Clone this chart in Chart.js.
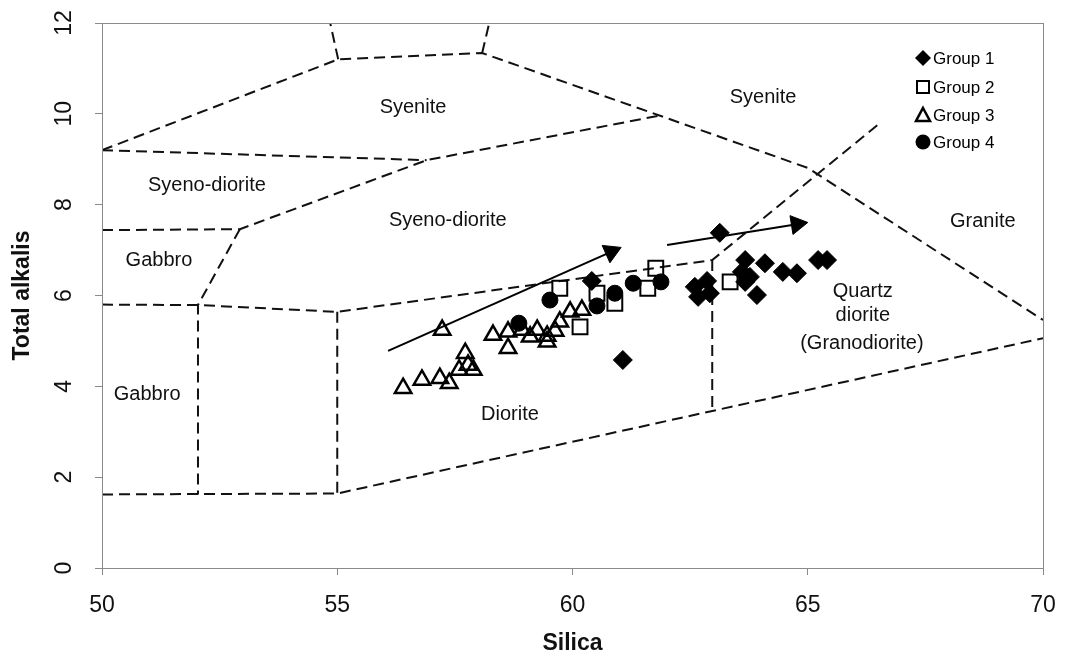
<!DOCTYPE html>
<html>
<head>
<meta charset="utf-8">
<script src="https://cdn.jsdelivr.net/npm/chart.js@4.4.1/dist/chart.umd.min.js"></script>
<style>
	html, body { margin: 0; padding: 0; background: #fff; }
	#wrap { width: 1070px; height: 663px; }
</style>
</head>
<body>
<div id="wrap"><canvas id="tas-chart"></canvas></div>
<script>
const FONT = '"Liberation Sans", Arial, sans-serif';

// samples: silica (x) and total alkalis (y)
const group1Silica = [60.41, 61.07, 63.13, 62.60, 62.86, 62.67, 62.92, 63.67, 63.60, 63.77, 64.09, 63.92, 64.47, 64.77, 65.22, 65.41, 63.67];
const group1Alkali = [6.32, 4.58, 7.38, 6.19, 6.32, 5.97, 6.05, 6.78, 6.52, 6.41, 6.71, 6.01, 6.52, 6.49, 6.78, 6.78, 6.30];

const group2Silica = [59.73, 60.16, 60.52, 60.90, 61.60, 61.77, 63.35];
const group2Alkali = [6.16, 5.31, 6.05, 5.83, 6.16, 6.60, 6.30];

const group3Silica = [56.40, 56.80, 57.18, 57.38, 57.59, 57.72, 57.78, 57.89, 57.23, 58.31, 58.63, 58.63, 58.93, 59.10, 59.25, 59.46, 59.46, 59.63, 59.73, 59.95, 60.20];
const group3Alkali = [3.96, 4.14, 4.18, 4.07, 4.36, 4.73, 4.47, 4.36, 5.24, 5.13, 5.20, 4.84, 5.24, 5.09, 5.24, 5.11, 4.98, 5.22, 5.42, 5.64, 5.68];

const group4Silica = [58.86, 59.52, 60.52, 60.90, 61.29, 61.88];
const group4Alkali = [5.39, 5.90, 5.77, 6.05, 6.27, 6.30];

const groupNames = ['Group 1', 'Group 2', 'Group 3', 'Group 4'];

const xTicks = [50, 55, 60, 65, 70];
const yTicks = [0, 2, 4, 6, 8, 10, 12];

// field boundaries of the diagram, [silica, alkalis] vertices
const fieldLines = [
	[[50, 9.2], [55.02, 11.2], [58.08, 11.34], [65, 8.81], [70, 5.46]],
	[[55.02, 11.2], [54.85, 12]],
	[[58.08, 11.34], [58.23, 12]],
	[[50, 9.2], [56.9, 8.98]],
	[[50, 7.44], [52.93, 7.46], [56.9, 8.98], [61.9, 9.97]],
	[[52.93, 7.46], [52.04, 5.79], [52.04, 1.62]],
	[[50, 5.8], [52.04, 5.79], [55, 5.64], [62.97, 6.78], [66.54, 9.8]],
	[[55, 5.64], [55, 1.64]],
	[[50, 1.62], [55, 1.64], [70, 5.06]],
	[[62.97, 6.78], [62.97, 3.48]]
];

// trend arrows: start, head
const arrowLines = [
	[[56.08, 4.78], [60.82, 6.96]],
	[[62.01, 7.11], [64.77, 7.57]]
];
const arrowTurn = [66, 81];

const fieldLabels = [
	['Syenite', 56.61, 10.15],
	['Syenite', 64.05, 10.37],
	['Syeno-diorite', 52.23, 8.43],
	['Syeno-diorite', 57.35, 7.66],
	['Gabbro', 51.21, 6.76],
	['Gabbro', 50.96, 3.81],
	['Diorite', 58.67, 3.37],
	['Granite', 68.72, 7.64],
	['Quartz', 66.17, 6.08],
	['diorite', 66.17, 5.55],
	['(Granodiorite)', 66.15, 4.95]
];

const pts = (xs, ys) => xs.map((x, i) => ({ x, y: ys[i] }));
const pairs = list => list.map(p => ({ x: p[0], y: p[1] }));

const datasets = [
	{ label: groupNames[3], data: pts(group4Silica, group4Alkali), pointStyle: 'circle', pointRadius: 8, backgroundColor: '#000', borderColor: '#000', borderWidth: 1 },
	{ label: groupNames[0], data: pts(group1Silica, group1Alkali), pointStyle: 'rectRot', pointRadius: 9.5, backgroundColor: '#000', borderColor: '#000', borderWidth: 1 },
	{ label: groupNames[1], data: pts(group2Silica, group2Alkali), pointStyle: 'rect', pointRadius: 10.5, backgroundColor: 'rgba(0,0,0,0)', borderColor: '#000', borderWidth: 2 },
	{ label: groupNames[2], data: pts(group3Silica, group3Alkali), pointStyle: 'triangle', pointRadius: 9.5, backgroundColor: 'rgba(0,0,0,0)', borderColor: '#000', borderWidth: 2.5 }
];

arrowLines.forEach((line, i) => {
	datasets.push({
		label: 'arrow',
		data: pairs(line),
		showLine: true,
		borderColor: '#000',
		borderWidth: 2,
		backgroundColor: '#000',
		pointStyle: 'triangle',
		pointRadius: [0, 11],
		pointRotation: [0, arrowTurn[i]],
		pointBorderWidth: 1
	});
});

fieldLines.forEach(line => {
	datasets.push({
		label: 'field',
		data: pairs(line),
		showLine: true,
		borderColor: '#111',
		borderWidth: 2,
		borderDash: [11, 6],
		pointRadius: 0,
		fill: false
	});
});

const diagramExtras = {
	id: 'diagramExtras',
	afterDatasetsDraw(chart) {
		const { ctx, chartArea: a, scales: { x, y } } = chart;
		ctx.save();
		ctx.fillStyle = '#111';
		ctx.textAlign = 'center';
		ctx.textBaseline = 'middle';
		ctx.font = '20px ' + FONT;
		fieldLabels.forEach(([text, sx, sy]) => {
			ctx.fillText(text, x.getPixelForValue(sx), y.getPixelForValue(sy));
		});

		// legend
		const lx = a.right - 120, rows = [58, 87, 115, 142];
		ctx.fillStyle = '#000';
		ctx.strokeStyle = '#000';
		ctx.beginPath();
		ctx.moveTo(lx, rows[0] - 8); ctx.lineTo(lx + 8, rows[0]); ctx.lineTo(lx, rows[0] + 8); ctx.lineTo(lx - 8, rows[0]);
		ctx.closePath(); ctx.fill();
		ctx.lineWidth = 2;
		ctx.strokeRect(lx - 6, rows[1] - 6, 12, 12);
		ctx.lineWidth = 2.5;
		ctx.beginPath();
		ctx.moveTo(lx, rows[2] - 7); ctx.lineTo(lx + 7, rows[2] + 6); ctx.lineTo(lx - 7, rows[2] + 6);
		ctx.closePath(); ctx.stroke();
		ctx.beginPath();
		ctx.arc(lx, rows[3], 7.5, 0, Math.PI * 2); ctx.fill();
		ctx.textAlign = 'left';
		ctx.font = '17px ' + FONT;
		groupNames.forEach((name, i) => ctx.fillText(name, lx + 10, rows[i] + 1));

		// frame
		ctx.strokeStyle = '#8a8a8a';
		ctx.lineWidth = 1;
		ctx.strokeRect(a.left + 0.5, a.top + 0.5, a.right - a.left, a.bottom - a.top);
		ctx.restore();
	}
};

new Chart(document.getElementById('tas-chart'), {
	type: 'scatter',
	data: { datasets },
	options: {
		responsive: true,
		maintainAspectRatio: false,
		animation: false,
		events: [],
		layout: { padding: { top: 23, right: 27, left: 0, bottom: 0 } },
		plugins: { legend: { display: false }, tooltip: { enabled: false } },
		scales: {
			x: {
				type: 'linear',
				min: 50,
				max: 70,
				afterBuildTicks: s => { s.ticks = xTicks.map(value => ({ value })); },
				afterFit: s => { s.height = 95; s.paddingLeft = 0; s.paddingRight = 0; },
				ticks: { font: { size: 23, family: FONT }, color: '#111', padding: 17, maxRotation: 0 },
				grid: { drawOnChartArea: false, drawTicks: true, tickLength: 7, color: '#8a8a8a' },
				border: { display: false },
				title: { display: true, text: 'Silica', color: '#111', font: { size: 23, weight: 'bold', family: FONT }, padding: { top: 0, bottom: 6 } }
			},
			y: {
				type: 'linear',
				min: 0,
				max: 12,
				afterBuildTicks: s => { s.ticks = yTicks.map(value => ({ value })); },
				afterFit: s => { s.width = 102; s.paddingTop = 0; s.paddingBottom = 0; },
				ticks: { font: { size: 23, family: FONT }, color: '#111', padding: 18, minRotation: 90, maxRotation: 90, crossAlign: 'center', autoSkip: false },
				grid: { drawOnChartArea: false, drawTicks: true, tickLength: 7, color: '#8a8a8a' },
				border: { display: false },
				title: { display: true, text: 'Total alkalis', color: '#111', font: { size: 23, weight: 'bold', family: FONT }, padding: { top: 9, bottom: 0 } }
			}
		}
	},
	plugins: [diagramExtras]
});
</script>
</body>
</html>
